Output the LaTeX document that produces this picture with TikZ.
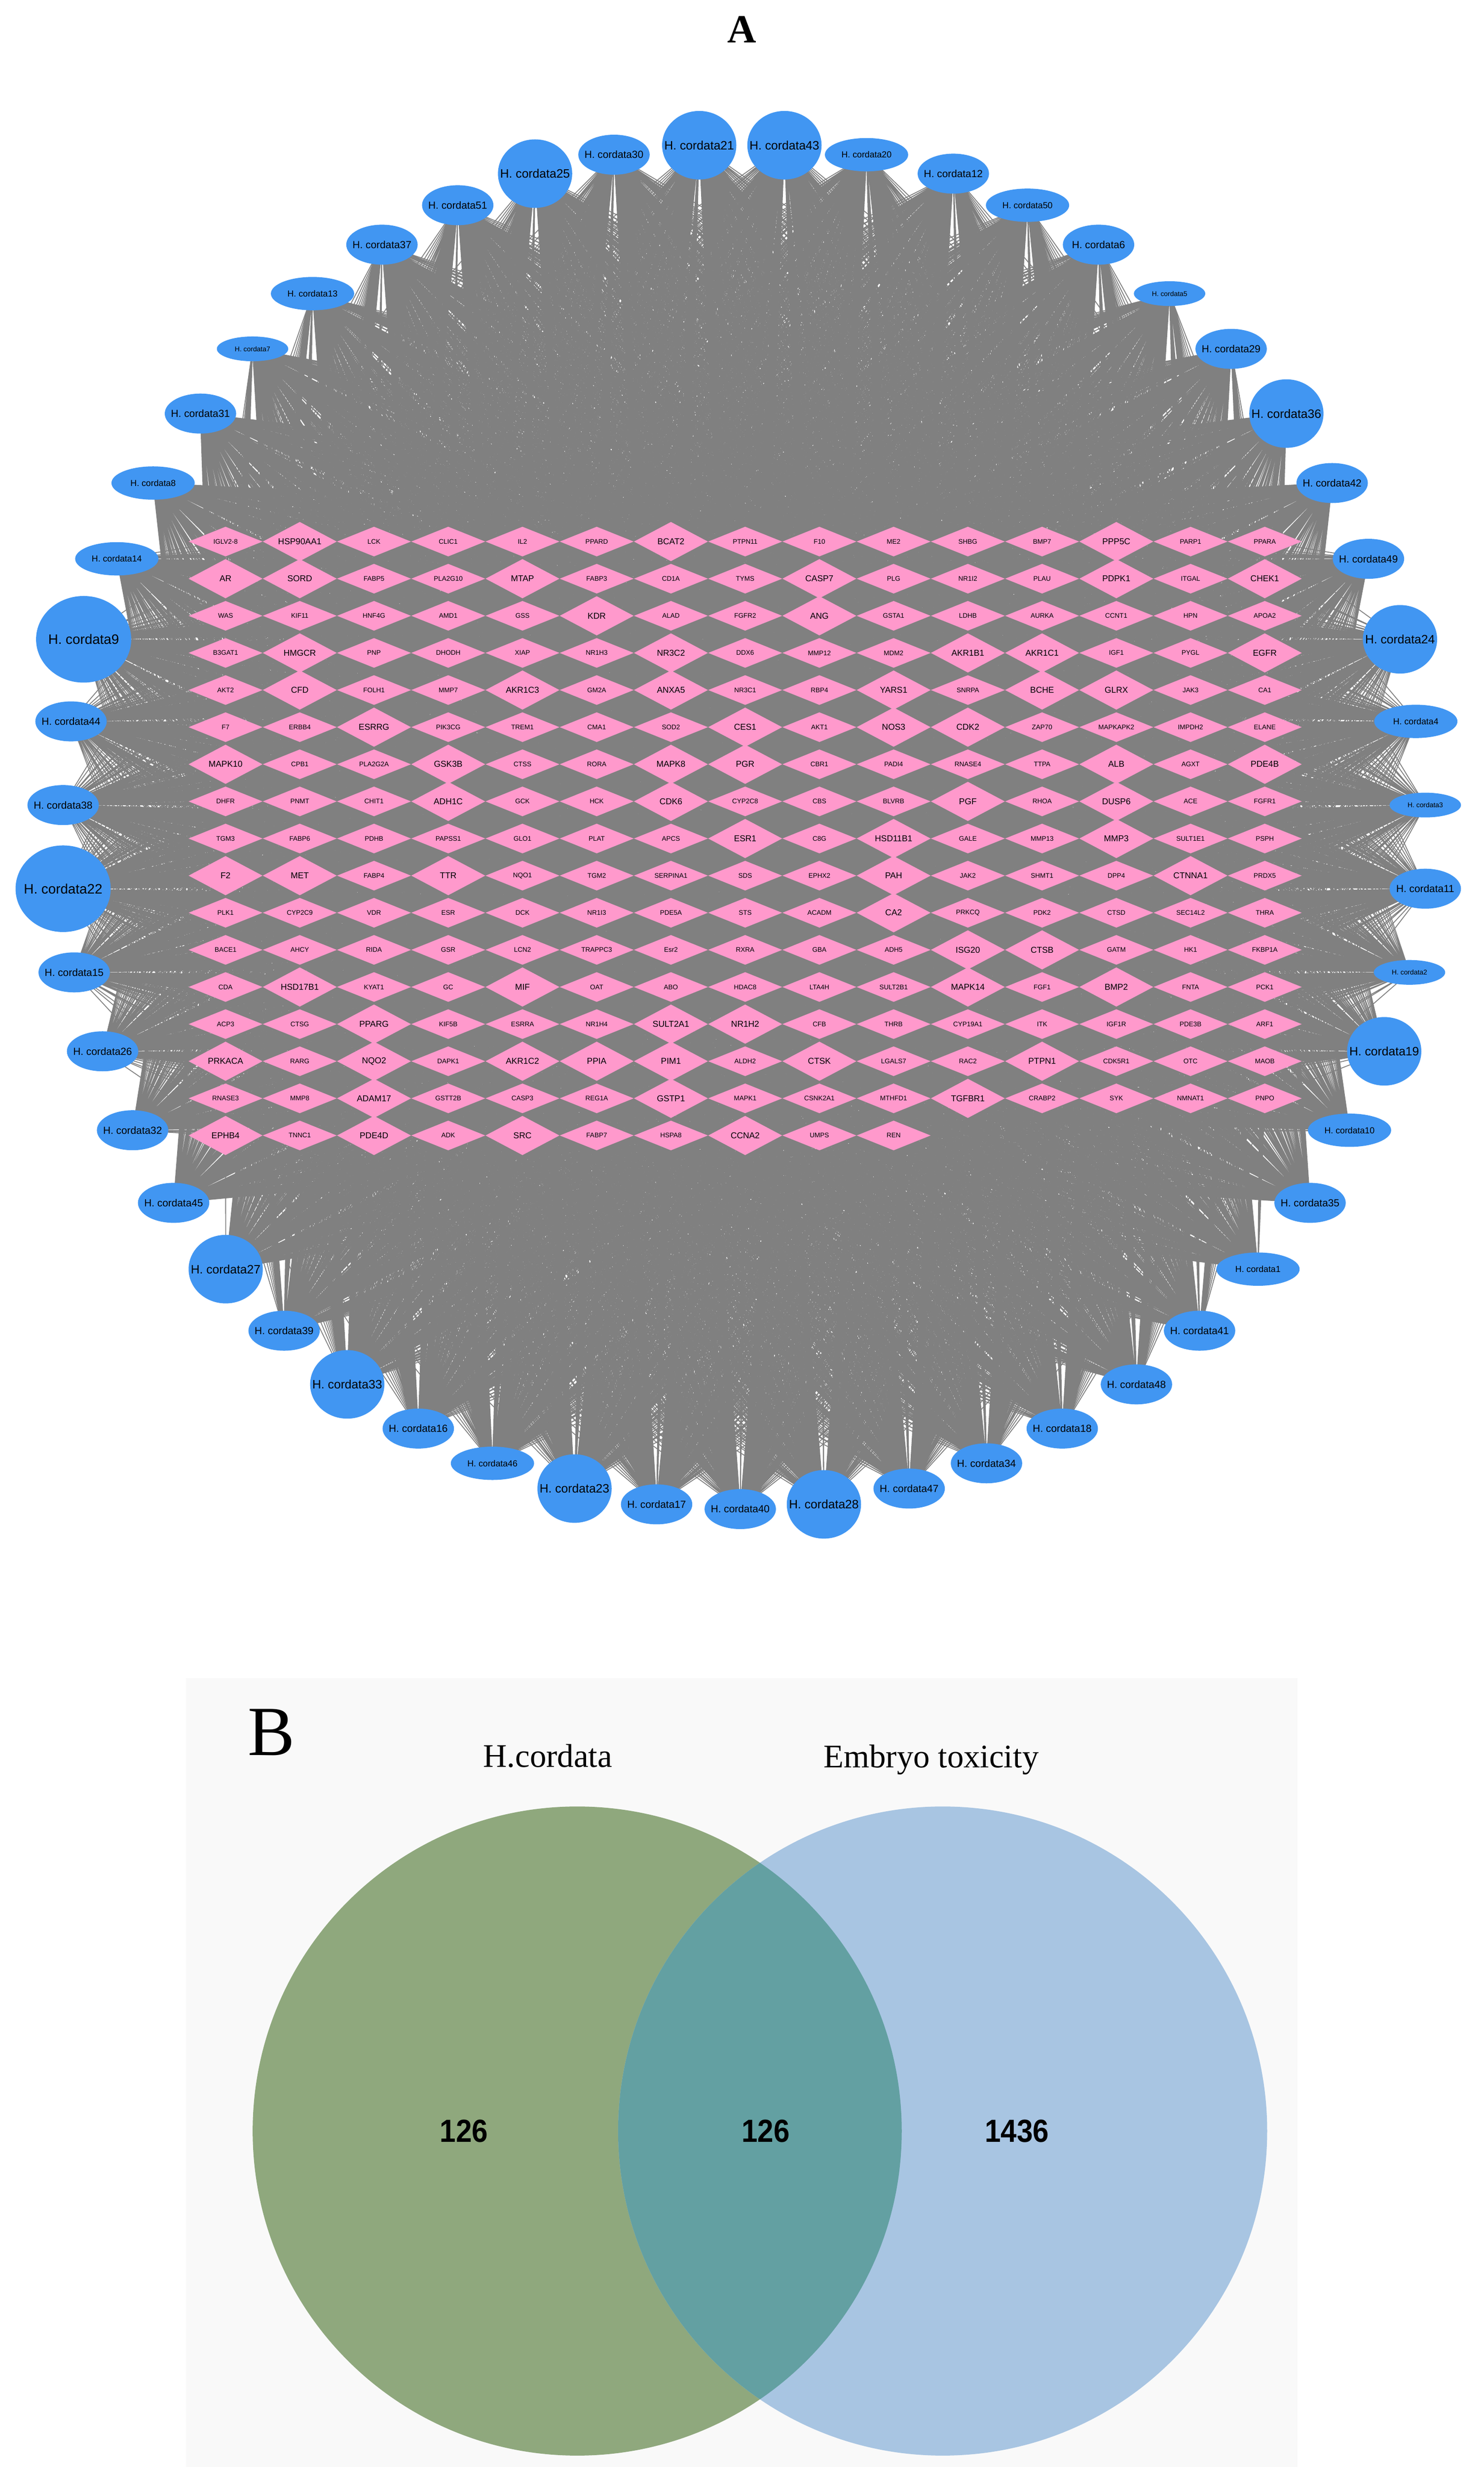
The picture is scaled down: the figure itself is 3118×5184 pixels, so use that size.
\documentclass[tikz,border=0pt]{standalone}
\usepackage{fontspec}
\usepackage{graphicx}
\setmainfont{Liberation Serif}
\newfontfamily\arialf{Liberation Sans}
\usetikzlibrary{shapes.geometric}
\pgfdeclarelayer{bg}\pgfsetlayers{bg,main}
\definecolor{hpink}{HTML}{FF99CC}
\definecolor{hblue}{HTML}{4196F2}
\definecolor{edgegray}{HTML}{808080}
\definecolor{vgreen}{HTML}{8FA87D}
\definecolor{vblue}{HTML}{A8C5E2}
\definecolor{vteal}{HTML}{63A0A2}
\definecolor{panelbg}{HTML}{F9F9F9}
\tikzset{
  dia/.style={diamond,fill=hpink,inner sep=0pt,minimum width=39pt,dsz/#1},
  dsz/n/.style={minimum height=15.75pt,font=\fontsize{3.5pt}{4pt}\arialf},
  dsz/l/.style={minimum height=20.75pt,font=\fontsize{4.5pt}{5pt}\arialf},
  ell/.style={ellipse,fill=hblue,inner sep=0pt,esz/#1},
  esz/X/.style={minimum width=50pt,minimum height=45.5pt,font=\fontsize{7.2pt}{8pt}\arialf},
  esz/L/.style={minimum width=39pt,minimum height=36pt,font=\fontsize{6.4pt}{7pt}\arialf},
  esz/M/.style={minimum width=37.5pt,minimum height=21pt,font=\fontsize{5.4pt}{6pt}\arialf},
  esz/S/.style={minimum width=43.75pt,minimum height=17.5pt,font=\fontsize{4.6pt}{5pt}\arialf},
  esz/T/.style={minimum width=37.5pt,minimum height=13pt,font=\fontsize{3.6pt}{4pt}\arialf},
  edge/.style={draw=edgegray,line width=0.45pt},
  venntxt/.style={inner sep=0pt,font=\fontsize{17.3pt}{18pt}\selectfont},
  vnum/.style={inner sep=0pt,font=\fontsize{16.8pt}{17pt}\arialf\bfseries}
}
\begin{document}
\begin{tikzpicture}[x=0.25pt,y=-0.25pt]
\useasboundingbox (0,0) rectangle (3118,5184);
\node[font=\fontsize{21pt}{22pt}\selectfont\bfseries] (titleA) at (1559,62) {A};
% diamonds
\foreach \row [count=\r from 0] in {
{IGLV2-8/n,HSP90AA1/l,LCK/n,CLIC1/n,IL2/n,PPARD/n,BCAT2/l,PTPN11/n,F10/n,ME2/n,SHBG/n,BMP7/n,PPP5C/l,PARP1/n,PPARA/n},
{AR/l,SORD/l,FABP5/n,PLA2G10/n,MTAP/l,FABP3/n,CD1A/n,TYMS/n,CASP7/l,PLG/n,NR1I2/n,PLAU/n,PDPK1/l,ITGAL/n,CHEK1/l},
{WAS/n,KIF11/n,HNF4G/n,AMD1/n,GSS/n,KDR/l,ALAD/n,FGFR2/n,ANG/l,GSTA1/n,LDHB/n,AURKA/n,CCNT1/n,HPN/n,APOA2/n},
{B3GAT1/n,HMGCR/l,PNP/n,DHODH/n,XIAP/n,NR1H3/n,NR3C2/l,DDX6/n,MMP12/n,MDM2/n,AKR1B1/l,AKR1C1/l,IGF1/n,PYGL/n,EGFR/l},
{AKT2/n,CFD/l,FOLH1/n,MMP7/n,AKR1C3/l,GM2A/n,ANXA5/l,NR3C1/n,RBP4/n,YARS1/l,SNRPA/n,BCHE/l,GLRX/l,JAK3/n,CA1/n},
{F7/n,ERBB4/n,ESRRG/l,PIK3CG/n,TREM1/n,CMA1/n,SOD2/n,CES1/l,AKT1/n,NOS3/l,CDK2/l,ZAP70/n,MAPKAPK2/n,IMPDH2/n,ELANE/n},
{MAPK10/l,CPB1/n,PLA2G2A/n,GSK3B/l,CTSS/n,RORA/n,MAPK8/l,PGR/l,CBR1/n,PADI4/n,RNASE4/n,TTPA/n,ALB/l,AGXT/n,PDE4B/l},
{DHFR/n,PNMT/n,CHIT1/n,ADH1C/l,GCK/n,HCK/n,CDK6/l,CYP2C8/n,CBS/n,BLVRB/n,PGF/l,RHOA/n,DUSP6/l,ACE/n,FGFR1/n},
{TGM3/n,FABP6/n,PDHB/n,PAPSS1/n,GLO1/n,PLAT/n,APCS/n,ESR1/l,C8G/n,HSD11B1/l,GALE/n,MMP13/n,MMP3/l,SULT1E1/n,PSPH/n},
{F2/l,MET/l,FABP4/n,TTR/l,NQO1/n,TGM2/n,SERPINA1/n,SDS/n,EPHX2/n,PAH/l,JAK2/n,SHMT1/n,DPP4/n,CTNNA1/l,PRDX5/n},
{PLK1/n,CYP2C9/n,VDR/n,ESR/n,DCK/n,NR1I3/n,PDE5A/n,STS/n,ACADM/n,CA2/l,PRKCQ/n,PDK2/n,CTSD/n,SEC14L2/n,THRA/n},
{BACE1/n,AHCY/n,RIDA/n,GSR/n,LCN2/n,TRAPPC3/n,Esr2/n,RXRA/n,GBA/n,ADH5/n,ISG20/l,CTSB/l,GATM/n,HK1/n,FKBP1A/n},
{CDA/n,HSD17B1/l,KYAT1/n,GC/n,MIF/l,OAT/n,ABO/n,HDAC8/n,LTA4H/n,SULT2B1/n,MAPK14/l,FGF1/n,BMP2/l,FNTA/n,PCK1/n},
{ACP3/n,CTSG/n,PPARG/l,KIF5B/n,ESRRA/n,NR1H4/n,SULT2A1/l,NR1H2/l,CFB/n,THRB/n,CYP19A1/n,ITK/n,IGF1R/n,PDE3B/n,ARF1/n},
{PRKACA/l,RARG/n,NQO2/l,DAPK1/n,AKR1C2/l,PPIA/l,PIM1/l,ALDH2/n,CTSK/l,LGALS7/n,RAC2/n,PTPN1/l,CDK5R1/n,OTC/n,MAOB/n},
{RNASE3/n,MMP8/n,ADAM17/l,GSTT2B/n,CASP3/n,REG1A/n,GSTP1/l,MAPK1/n,CSNK2A1/n,MTHFD1/n,TGFBR1/l,CRABP2/n,SYK/n,NMNAT1/n,PNPO/n},
{EPHB4/l,TNNC1/n,PDE4D/l,ADK/n,SRC/l,FABP7/n,HSPA8/n,CCNA2/l,UMPS/n,REN/n}}{
  \foreach \g/\sz [count=\c from 0] in \row {
    \pgfmathtruncatemacro\n{\r*15+\c}
    \node[dia=\sz] (d\n) at ({474+156*\c},{1138+78*\r}) {\makebox[0pt]{\g}};
  }
}
% ellipses
\foreach \k/\x/\y/\s in {
21/443/92/L,43/497/92/L,25/339/110/L,30/389/98/M,20/549/98/S,12/604/110/M,
51/290/130/M,50/651/130/S,37/242/155/M,6/696/155/M,13/198/186/S,5/741/186/T,
7/160/221/T,29/780/221/M,31/127/262/M,36/815/262/L,8/97/306/S,42/844/306/M,
14/74/354/S,49/867/354/M,9/53/405/X,24/887/405/L,44/45/457/M,4/897/457/S,
38/40/510/M,3/903/510/T,22/40/563/X,11/903/563/M,15/47/616/M,2/893/616/T,
26/65/666/M,19/877/666/L,32/84/716/M,10/855/716/S,45/110/762/M,35/830/762/M,
27/143/804/L,1/797/804/S,39/180/843/M,41/760/843/M,33/220/877/L,48/720/877/M,
16/265/905/M,18/673/905/M,46/312/927/S,34/625/927/M,23/364/943/L,47/576/943/M,
17/416/953/M,40/469/956/M,28/522/953/L}{
  \node[ell=\s] (e\k) at ({3.317*\x},{3.317*\y}) {\makebox[0pt]{H. cordata\k}};
}
% edges
\begin{pgfonlayer}{bg}
\foreach \k in {1,...,51}{
  \draw[edge] \foreach \n in {0,...,249}{(e\k.center) -- (d\n.center)};
}
\end{pgfonlayer}
% panel B
\fill[panelbg] (391,3526) rectangle (2727,5184);
\node[font=\fontsize{37pt}{38pt}\selectfont] (titleB) at (570,3640) {B};
\node[venntxt] (lab1) at (1151,3690) {H.cordata};
\node[venntxt] (lab2) at (1957,3698) {Embryo toxicity};
\fill[vgreen] (1213,4478) circle[radius=170.5pt];
\fill[vblue] (1981,4478) circle[radius=170.5pt];
\begin{scope}
  \clip (1213,4478) circle[radius=170.5pt];
  \fill[vteal] (1981,4478) circle[radius=170.5pt];
\end{scope}
\node[vnum] (n1) at (975,4478) {\scalebox{0.9}[1]{126}};
\node[vnum] (n2) at (1609,4478) {\scalebox{0.9}[1]{126}};
\node[vnum] (n3) at (2137,4478) {\scalebox{0.9}[1]{1436}};
\end{tikzpicture}
\end{document}
